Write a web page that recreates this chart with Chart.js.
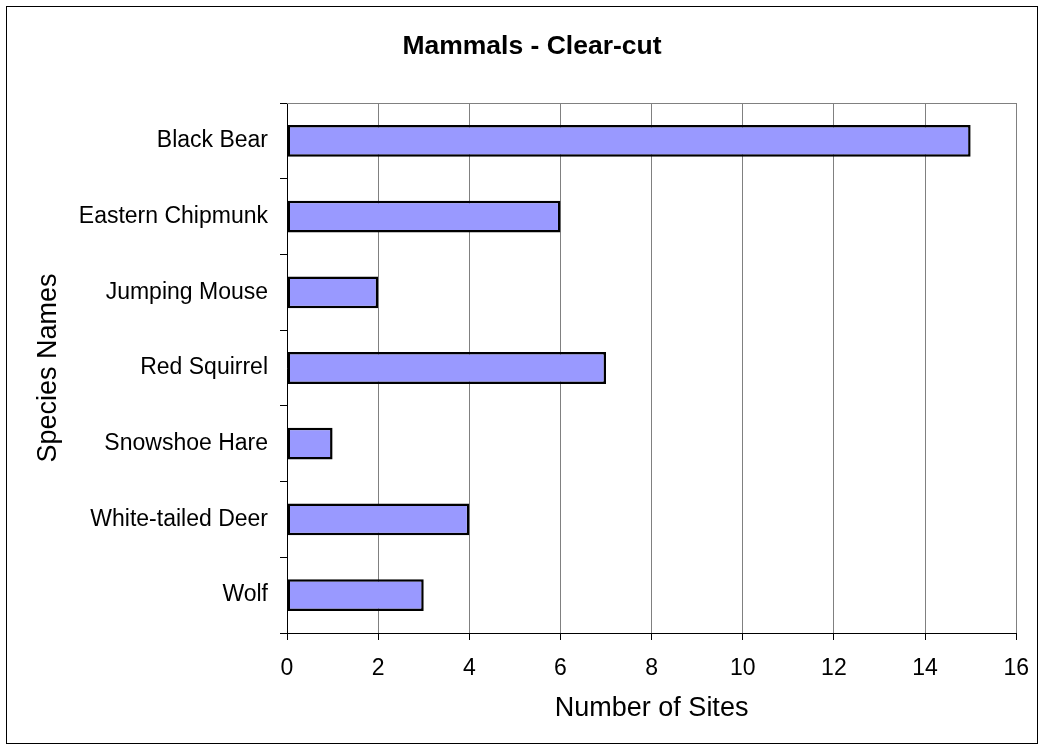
<!DOCTYPE html>
<html>
<head>
<meta charset="utf-8">
<title>Mammals - Clear-cut</title>
<script src="https://cdn.jsdelivr.net/npm/chart.js@4/dist/chart.umd.min.js"></script>
<style>
  html, body { margin: 0; padding: 0; background: #fff; }
  #wrap { width: 1044px; height: 750px; }
</style>
</head>
<body>
<div id="wrap"><canvas id="chartMammals" width="1044" height="750"></canvas></div>
<script>
const SPECIES = [
  'Black Bear',
  'Eastern Chipmunk',
  'Jumping Mouse',
  'Red Squirrel',
  'Snowshoe Hare',
  'White-tailed Deer',
  'Wolf',
];
const SITES = [15, 6, 2, 7, 1, 4, 3];
const X_MIN = 0;
const X_MAX = 16;
const X_STEP = 2;

const FONT = "'Liberation Sans', Arial, sans-serif";

// white page, outer frame and the grey top edge of the plot box
const framePlugin = {
  id: 'frame',
  beforeDraw(chart) {
    const { ctx, width, height } = chart;
    ctx.save();
    ctx.fillStyle = '#fff';
    ctx.fillRect(0, 0, width, height);
    ctx.restore();
  },
  afterDraw(chart) {
    const { ctx, chartArea: area, width, height } = chart;
    ctx.save();
    ctx.strokeStyle = '#808080';
    ctx.lineWidth = 1;
    ctx.beginPath();
    ctx.moveTo(area.left, Math.round(area.top) + 0.5);
    ctx.lineTo(area.right, Math.round(area.top) + 0.5);
    ctx.stroke();
    ctx.strokeStyle = '#000';
    ctx.strokeRect(6.5, 6.5, width - 13, height - 13);
    ctx.restore();
  },
};

const canvas = document.getElementById('chartMammals');

new Chart(canvas.getContext('2d'), {
  type: 'bar',
  data: {
    labels: SPECIES,
    datasets: [
      {
        label: 'Number of Sites',
        data: SITES,
        backgroundColor: '#9999FF',
        borderColor: '#000',
        borderWidth: 2.5,
        borderSkipped: false,
        barPercentage: 0.42,
        categoryPercentage: 1,
      },
    ],
  },
  options: {
    indexAxis: 'y',
    responsive: false,
    animation: false,
    devicePixelRatio: 1,
    layout: {
      // left padding shifts the chart title so it sits over the whole frame
      padding: { top: 0, left: 45, right: 25, bottom: 0 },
    },
    plugins: {
      legend: { display: false },
      tooltip: { enabled: false },
      title: {
        display: true,
        text: 'Mammals - Clear-cut',
        color: '#000',
        font: { family: FONT, size: 26.5, weight: 'bold' },
        padding: { top: 30.6, bottom: 40.6 },
      },
    },
    scales: {
      x: {
        min: X_MIN,
        max: X_MAX,
        afterFit(scale) {
          scale.height = 117;
        },
        ticks: {
          stepSize: X_STEP,
          color: '#000',
          padding: 15,
          maxRotation: 0,
          font: { family: FONT, size: 23 },
        },
        grid: {
          color: '#808080',
          tickColor: '#000',
          tickLength: 7,
          lineWidth: 1,
        },
        border: { display: true, color: '#000', width: 1 },
        title: {
          display: true,
          text: 'Number of Sites',
          color: '#000',
          font: { family: FONT, size: 27 },
          padding: { top: 0, bottom: 25 },
        },
      },
      y: {
        afterFit(scale) {
          scale.width = 242;
        },
        ticks: {
          color: '#000',
          padding: 12,
          font: { family: FONT, size: 23 },
        },
        grid: {
          offset: true,
          drawOnChartArea: false,
          tickColor: '#000',
          tickLength: 7,
        },
        border: { display: true, color: '#000', width: 1 },
        title: {
          display: true,
          text: 'Species Names',
          color: '#000',
          font: { family: FONT, size: 27 },
          padding: { top: -13, bottom: 0 },
        },
      },
    },
  },
  plugins: [framePlugin],
});
</script>
</body>
</html>
